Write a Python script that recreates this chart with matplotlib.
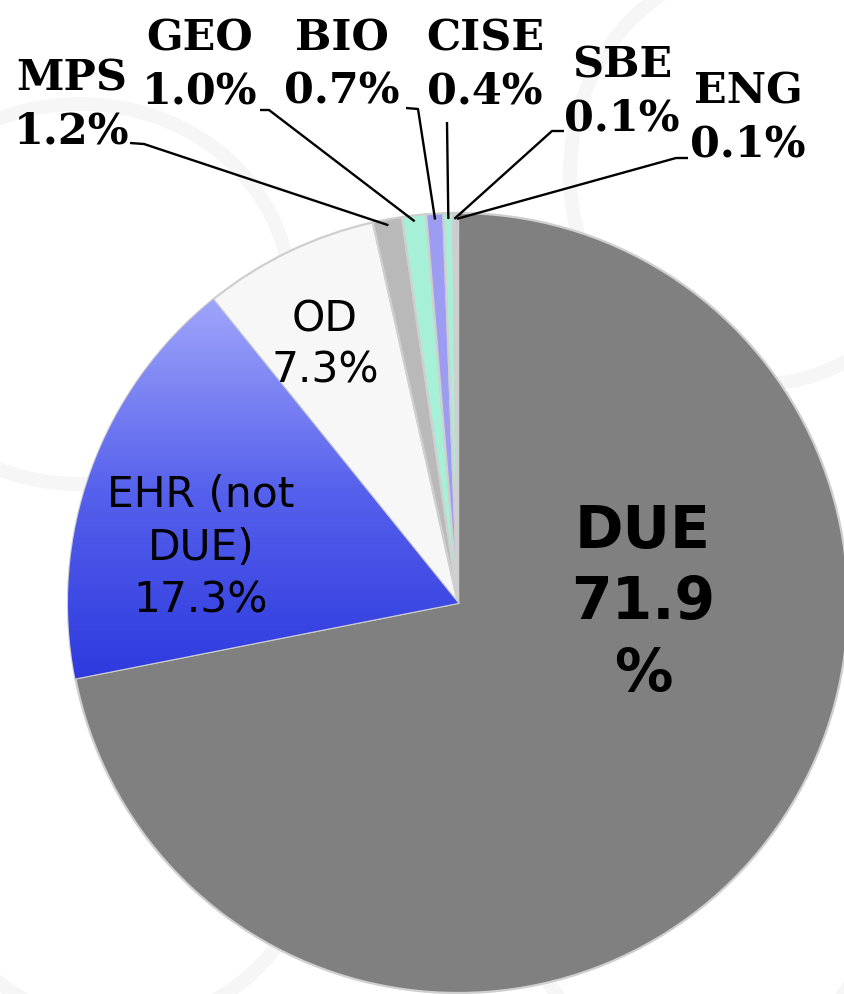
import numpy as np
import matplotlib
matplotlib.use("Agg")
import matplotlib.pyplot as plt
from matplotlib.colors import LinearSegmentedColormap
from matplotlib.patches import Arc

# data
labels = ["DUE", "EHR (not\nDUE)", "OD", "MPS", "GEO", "BIO", "CISE", "SBE", "ENG"]
shares = [71.9, 17.3, 7.3, 1.2, 1.0, 0.7, 0.4, 0.1, 0.1]
colors = ["#808080", "#6570f0", "#f7f7f7", "#b9b9b9", "#a6f0d8",
          "#9c9cf2", "#a8eed8", "#a4a4a4", "#8a8ae6"]

W, H = 845, 994
cx, cy, R = 458, H - 603, 390

fig = plt.figure(figsize=(W / 100, H / 100), dpi=100)
fig.patch.set_facecolor("white")
ax = fig.add_axes([0, 0, 1, 1])

# faint watermark-ish arcs in the background
for (x, y, w, h, t1, t2) in [(80, 700, 420, 380, 0, 360), (760, 820, 380, 420, 90, 300),
                             (120, 150, 380, 360, 200, 420), (700, 120, 360, 400, 180, 360)]:
    ax.add_patch(Arc((x, y), w, h, theta1=t1, theta2=t2, color="#f6f6f6", lw=10, zorder=0))

wedges, _ = ax.pie(shares, colors=colors, startangle=90, counterclock=False,
                   center=(cx, cy), radius=R, frame=True,
                   wedgeprops=dict(edgecolor="#cfcfcf", linewidth=1.6))

# vertical gradient on the EHR slice
grad = LinearSegmentedColormap.from_list("ehr", ["#2b37dd", "#5560ec", "#a2a7fa"])
ehr = wedges[1]
img = ax.imshow(np.linspace(0, 1, 256).reshape(-1, 1), cmap=grad, origin="lower",
                extent=(cx - R, cx, cy - 90, cy + 310), aspect="auto", zorder=1.5)
img.set_clip_path(ehr)
ehr.set_zorder(1.4)

ax.set_xlim(0, W)
ax.set_ylim(0, H)
ax.set_aspect("equal")
ax.axis("off")

# labels inside the big slices
ax.text(643, H - 603, "DUE\n71.9\n%", ha="center", va="center", fontsize=42,
        fontweight="bold", color="black", linespacing=1.32, zorder=5)
ax.text(201, H - 548, f"{labels[1]}\n{shares[1]:.1f}%", ha="center", va="center",
        fontsize=30.5, color="black", linespacing=1.33, zorder=5)
ax.text(325, H - 345, f"{labels[2]}\n{shares[2]:.1f}%", ha="center", va="center",
        fontsize=30.5, color="black", linespacing=1.28, zorder=5)

# small slices: labels with leader lines (label centre, elbow, line end)
small_layout = {
    "MPS": ((72, 105), (144, 144), (130, 143)),
    "GEO": ((200, 65), (269, 110), (260, 110)),
    "BIO": ((342, 65), (418, 109), (406, 108)),
    "CISE": ((485, 65), (447, 122), (447, 122)),
    "SBE": ((622, 92), (552, 131), (564, 131)),
    "ENG": ((748, 118), (676, 158), (688, 158)),
}

cum = np.cumsum([0] + shares)
for i, name in enumerate(labels):
    if name not in small_layout:
        continue
    mid = (cum[i] + cum[i + 1]) / 2
    ang = np.deg2rad(90 - mid / 100 * 360)
    ax_pt = (cx + 0.985 * R * np.cos(ang), cy + 0.985 * R * np.sin(ang))
    (tx, ty), (ex, ey), (fx, fy) = small_layout[name]
    ax.plot([ax_pt[0], ex, fx], [ax_pt[1], H - ey, H - fy], color="black", lw=1.7,
            zorder=4, solid_capstyle="butt")
    ax.text(tx, H - ty, f"{name}\n{shares[i]:.1f}%", ha="center", va="center",
            fontsize=31, fontweight="bold", family="DejaVu Serif", linespacing=1.34,
            zorder=5)

fig.savefig("out.png", dpi=100, facecolor="white")
